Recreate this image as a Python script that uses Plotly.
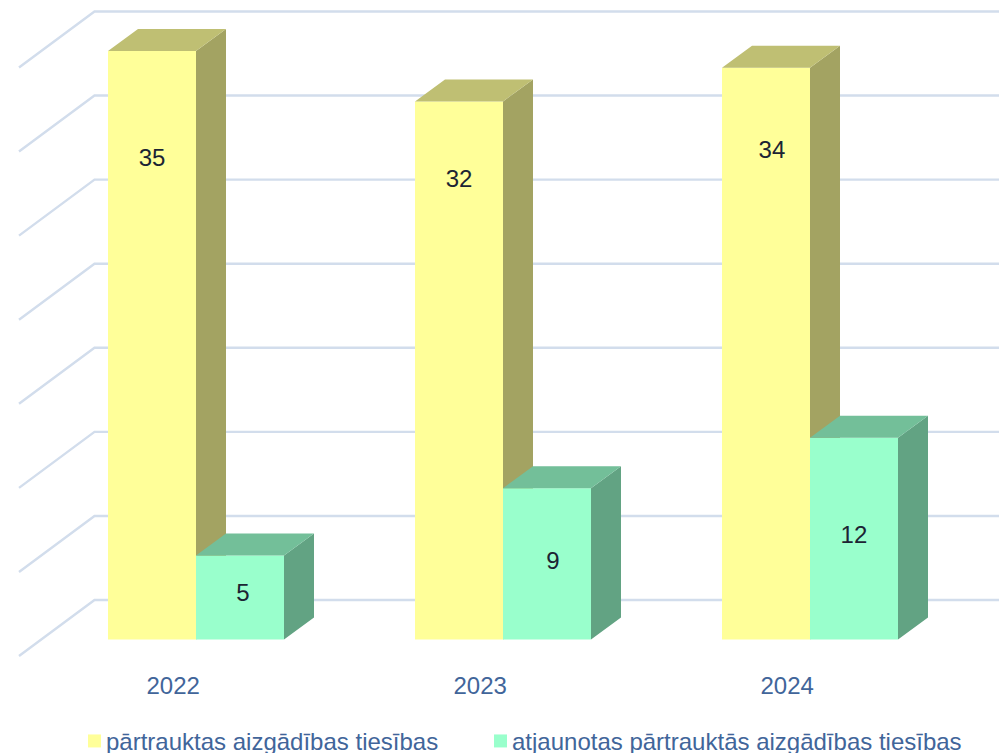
import plotly.graph_objects as go

# --- data ---
years = ["2022", "2023", "2024"]
series_names = ["pārtrauktas aizgādības tiesības", "atjaunotas pārtrauktās aizgādības tiesības"]
ended = [35, 32, 34]
restored = [5, 9, 12]
grid_values = [0, 5, 10, 15, 20, 25, 30, 35]
# where the reference chart put each data label (value height on the axis, shift from group centre in category units)
ended_label_y = [28.5, 27.25, 29.0]
ended_label_x = [-0.143, -0.143, -0.124]
restored_label_y = [2.62, 4.58, 6.08]
restored_label_x = [0.153, 0.163, 0.143]

# --- geometry ---
W, H = 999, 753
PLOT_BOTTOM = 669.5
GROUP_STEP = 307.0          # px per category
GROUP0 = 196.0              # px of first group's centre
UNIT = 589.0 / 35           # px per value unit
BASE = 640.0                # px of value 0, bar plane
BAR_W = 88.0 / GROUP_STEP
DEPTH_X = 30.0 / GROUP_STEP
DEPTH_Y = 22.0 / UNIT
XR = [-GROUP0 / GROUP_STEP, (W - GROUP0) / GROUP_STEP]
YR = [(BASE - PLOT_BOTTOM) / UNIT, BASE / UNIT]
GRID_BACK_X = (94.5 - GROUP0) / GROUP_STEP
GRID_FRONT_X = (19 - GROUP0) / GROUP_STEP
GRID_BACK_Y = 39.5 / UNIT
GRID_FRONT_Y = -16.5 / UNIT
LABEL_SHIFT = 22.8 / GROUP_STEP

YELLOW, YELLOW_TOP, YELLOW_SIDE = "#FFFF99", "#BFBF73", "#A3A362"
GREEN, GREEN_TOP, GREEN_SIDE = "#99FFCC", "#73BF99", "#62A383"
GRID = "#D2DDEC"
AXIS_TEXT = "#41659A"
LABEL_TEXT = "#1C2433"
FONT = "Liberation Sans, Arial, sans-serif"
SIZE = 24


def polys(values, left):
    top_x, top_y, side_x, side_y = [], [], [], []
    for i, v in enumerate(values):
        x0 = i + left
        x1 = x0 + BAR_W
        top_x += [x0, x1, x1 + DEPTH_X, x0 + DEPTH_X, x0, None]
        top_y += [v, v, v + DEPTH_Y, v + DEPTH_Y, v, None]
        side_x += [x1, x1, x1 + DEPTH_X, x1 + DEPTH_X, x1, None]
        side_y += [0, v, v + DEPTH_Y, DEPTH_Y, 0, None]
    return top_x, top_y, side_x, side_y


def face(x, y, color, axes):
    return go.Scatter(x=x, y=y, mode="lines", fill="toself", fillcolor=color,
                      line=dict(width=0, color=color), hoverinfo="skip",
                      showlegend=False, xaxis=axes[0], yaxis=axes[1])


fig = go.Figure()

# back wall and side wall grid
gx, gy = [], []
for v in grid_values:
    gx += [GRID_FRONT_X, GRID_BACK_X, XR[1], None]
    gy += [v + GRID_FRONT_Y, v + GRID_BACK_Y, v + GRID_BACK_Y, None]
fig.add_trace(go.Scatter(x=gx, y=gy, mode="lines", line=dict(color=GRID, width=2.4),
                         hoverinfo="skip", showlegend=False))

positions = list(range(len(years)))

# yellow bars (own overlay so they cover the grid)
t_x, t_y, s_x, s_y = polys(ended, -BAR_W)
fig.add_trace(face(s_x, s_y, YELLOW_SIDE, ("x2", "y2")))
fig.add_trace(face(t_x, t_y, YELLOW_TOP, ("x2", "y2")))
fig.add_trace(go.Bar(x=positions, y=ended, name=series_names[0], width=BAR_W, offset=-BAR_W,
                     marker=dict(color=YELLOW, line=dict(width=0)), showlegend=False,
                     xaxis="x2", yaxis="y2"))

# green bars (overlay above the yellow side faces)
t_x, t_y, s_x, s_y = polys(restored, 0)
fig.add_trace(face(s_x, s_y, GREEN_SIDE, ("x3", "y3")))
fig.add_trace(face(t_x, t_y, GREEN_TOP, ("x3", "y3")))
fig.add_trace(go.Bar(x=positions, y=restored, name=series_names[1], width=BAR_W, offset=0,
                     marker=dict(color=GREEN, line=dict(width=0)), showlegend=False,
                     xaxis="x3", yaxis="y3"))

# data labels
lab_x = [p + d for p, d in zip(positions, ended_label_x)] + [p + d for p, d in zip(positions, restored_label_x)]
fig.add_trace(go.Scatter(x=lab_x, y=ended_label_y + restored_label_y, mode="text",
                         text=[str(v) for v in ended + restored],
                         textfont=dict(family=FONT, size=SIZE, color=LABEL_TEXT),
                         textposition="middle center", hoverinfo="skip", showlegend=False,
                         xaxis="x3", yaxis="y3"))

plot_frac = PLOT_BOTTOM / H
hidden = dict(visible=False, fixedrange=True)
fig.update_layout(
    width=W, height=H, autosize=False,
    margin=dict(l=0, r=0, t=0, b=H - PLOT_BOTTOM, pad=0),
    paper_bgcolor="white", plot_bgcolor="white", showlegend=False,
    xaxis=dict(range=XR, tickmode="array", tickvals=[p - LABEL_SHIFT for p in positions], ticktext=years,
               showgrid=False, zeroline=False, showline=False, ticks="", ticklen=0,
               tickfont=dict(family=FONT, size=SIZE, color=AXIS_TEXT), fixedrange=True),
    yaxis=dict(range=YR, **hidden),
    xaxis2=dict(range=XR, overlaying="x", **hidden),
    yaxis2=dict(range=YR, overlaying="y", **hidden),
    xaxis3=dict(range=XR, overlaying="x", **hidden),
    yaxis3=dict(range=YR, overlaying="y", **hidden),
)


def paper_y(px):
    return 1 - px / H / plot_frac


# legend, drawn to the reference's compact swatch-and-text spacing
legend_items = [(88, 104.5, YELLOW, series_names[0]), (494, 510.5, GREEN, series_names[1])]
for sw, tx, col, name in legend_items:
    fig.add_shape(type="rect", xref="paper", yref="paper", x0=sw / W, x1=(sw + 13) / W,
                  y0=paper_y(748), y1=paper_y(735), fillcolor=col, line_width=0)
    fig.add_annotation(xref="paper", yref="paper", x=tx / W, y=paper_y(742.5),
                       text=name, showarrow=False, xanchor="left", yanchor="middle",
                       font=dict(family=FONT, size=SIZE, color=AXIS_TEXT), borderpad=0)

fig.write_html("out.html", config={"displayModeBar": False},
               post_script="document.body.style.margin='0';document.body.style.overflow='hidden';")
